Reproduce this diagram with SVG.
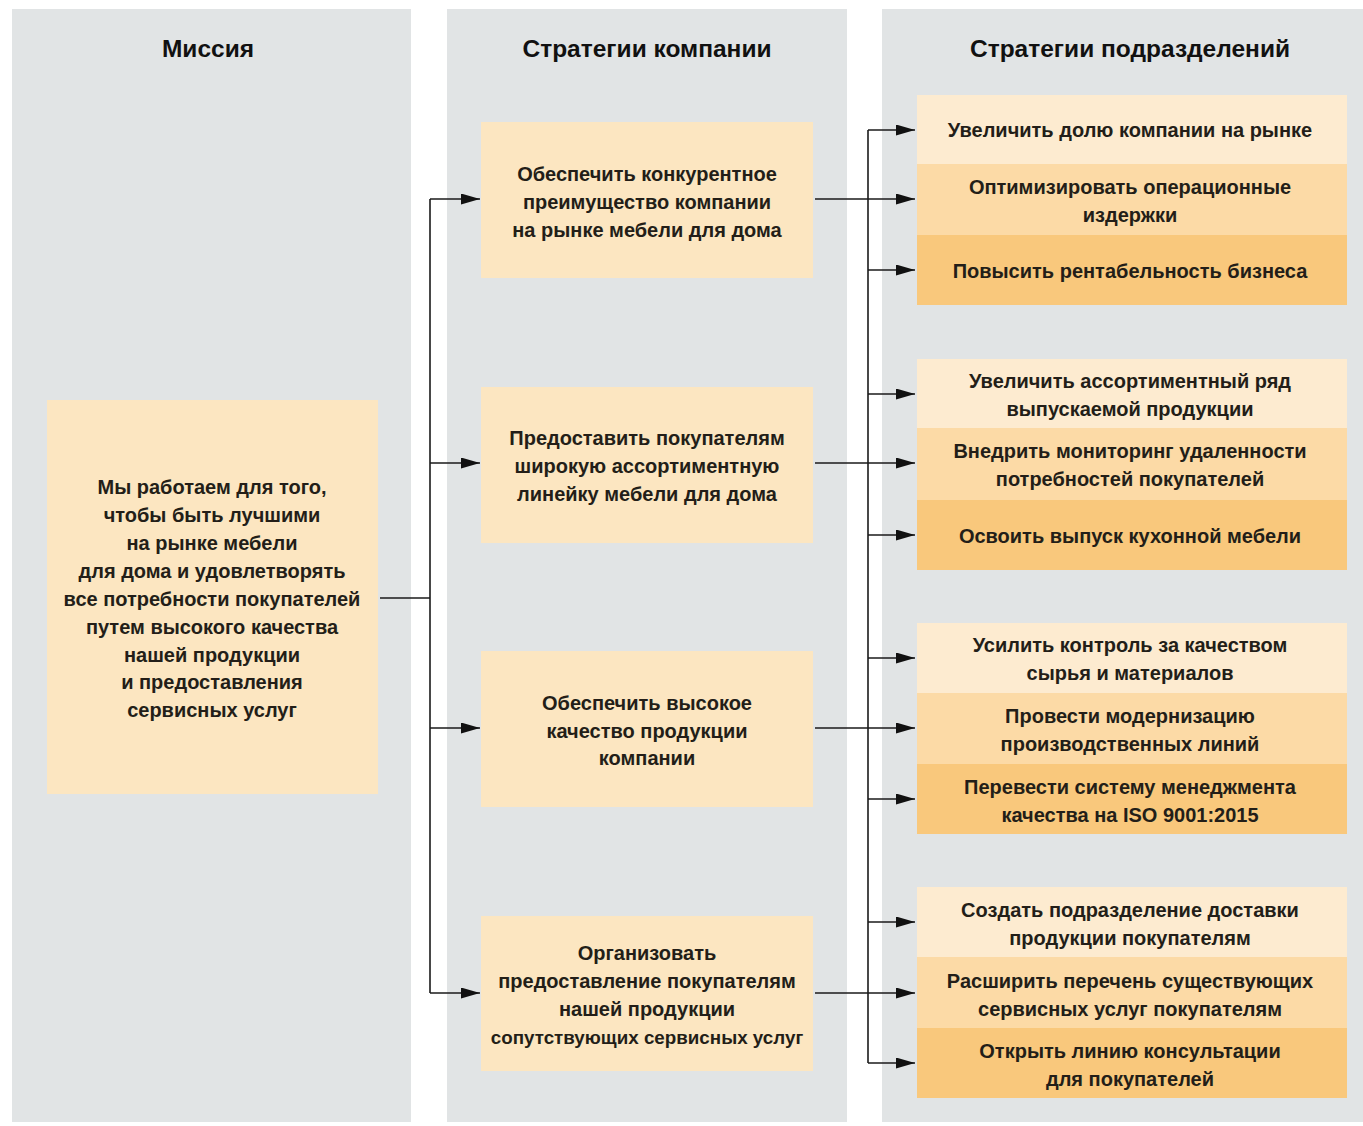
<svg xmlns="http://www.w3.org/2000/svg" width="1363" height="1126" viewBox="0 0 1363 1126">
<style>
.panel{fill:#e1e4e5}
.box{fill:#fce6c1}
.r1{fill:#fdebd0}
.r2{fill:#fcdaa6}
.r3{fill:#f9c87c}
text{font-family:"Liberation Sans",Arial,sans-serif;fill:#231e18;text-anchor:middle}
.h{font-size:24.5px;font-weight:bold;fill:#111}
.t{font-size:20px;font-weight:bold}
.s{font-size:18.8px}
.c{fill:none;stroke:#1a1a1a;stroke-width:1.6}
</style>
<defs>
<marker id="ah" viewBox="0 0 19 11" refX="19" refY="5.5" markerWidth="19" markerHeight="11" markerUnits="userSpaceOnUse" orient="auto">
<path d="M0,0 L19,5.5 L0,11 Z" fill="#111"/>
</marker>
</defs>
<rect width="1363" height="1126" fill="#fff"/>
<g id="panels">
<rect class="panel" x="12" y="9" width="399" height="1113"/>
<rect class="panel" x="447" y="9" width="400" height="1113"/>
<rect class="panel" x="882" y="9" width="481" height="1113"/>
<text class="h" x="208" y="57">Миссия</text>
<text class="h" x="647" y="57">Стратегии компании</text>
<text class="h" x="1130" y="57">Стратегии подразделений</text>
</g>
<g id="mission">
<rect class="box" x="47" y="400" width="331" height="394"/>
<text class="t" x="212" y="494">Мы работаем для того,</text>
<text class="t" x="212" y="522">чтобы быть лучшими</text>
<text class="t" x="212" y="550">на рынке мебели</text>
<text class="t" x="212" y="578">для дома и удовлетворять</text>
<text class="t" x="212" y="606">все потребности покупателей</text>
<text class="t" x="212" y="634">путем высокого качества</text>
<text class="t" x="212" y="662">нашей продукции</text>
<text class="t" x="212" y="689">и предоставления</text>
<text class="t" x="212" y="717">сервисных услуг</text>
</g>
<g id="s1">
<rect class="box" x="481" y="122" width="332" height="156"/>
<text class="t" x="647" y="181">Обеспечить конкурентное</text>
<text class="t" x="647" y="209">преимущество компании</text>
<text class="t" x="647" y="237">на рынке мебели для дома</text>
</g>
<g id="s2">
<rect class="box" x="481" y="387" width="332" height="156"/>
<text class="t" x="647" y="445">Предоставить покупателям</text>
<text class="t" x="647" y="473">широкую ассортиментную</text>
<text class="t" x="647" y="501">линейку мебели для дома</text>
</g>
<g id="s3">
<rect class="box" x="481" y="651" width="332" height="156"/>
<text class="t" x="647" y="710">Обеспечить высокое</text>
<text class="t" x="647" y="738">качество продукции</text>
<text class="t" x="647" y="765">компании</text>
</g>
<g id="s4">
<rect class="box" x="481" y="916" width="332" height="155"/>
<text class="t" x="647" y="960">Организовать</text>
<text class="t" x="647" y="988">предоставление покупателям</text>
<text class="t" x="647" y="1016">нашей продукции</text>
<text class="t s" x="647" y="1044">сопутствующих сервисных услуг</text>
</g>
<g id="d1">
<rect class="r1" x="917" y="95" width="430" height="69"/>
<rect class="r2" x="917" y="164" width="430" height="71"/>
<rect class="r3" x="917" y="235" width="430" height="70"/>
<text class="t" x="1130" y="137">Увеличить долю компании на рынке</text>
<text class="t" x="1130" y="194">Оптимизировать операционные</text>
<text class="t" x="1130" y="222">издержки</text>
<text class="t" x="1130" y="278">Повысить рентабельность бизнеса</text>
</g>
<g id="d2">
<rect class="r1" x="917" y="359" width="430" height="69"/>
<rect class="r2" x="917" y="428" width="430" height="72"/>
<rect class="r3" x="917" y="500" width="430" height="70"/>
<text class="t" x="1130" y="388">Увеличить ассортиментный ряд</text>
<text class="t" x="1130" y="416">выпускаемой продукции</text>
<text class="t" x="1130" y="458">Внедрить мониторинг удаленности</text>
<text class="t" x="1130" y="486">потребностей покупателей</text>
<text class="t" x="1130" y="543">Освоить выпуск кухонной мебели</text>
</g>
<g id="d3">
<rect class="r1" x="917" y="623" width="430" height="70"/>
<rect class="r2" x="917" y="693" width="430" height="71"/>
<rect class="r3" x="917" y="764" width="430" height="70"/>
<text class="t" x="1130" y="652">Усилить контроль за качеством</text>
<text class="t" x="1130" y="680">сырья и материалов</text>
<text class="t" x="1130" y="723">Провести модернизацию</text>
<text class="t" x="1130" y="751">производственных линий</text>
<text class="t" x="1130" y="794">Перевести систему менеджмента</text>
<text class="t" x="1130" y="822">качества на ISO 9001:2015</text>
</g>
<g id="d4">
<rect class="r1" x="917" y="887" width="430" height="70"/>
<rect class="r2" x="917" y="957" width="430" height="71"/>
<rect class="r3" x="917" y="1028" width="430" height="70"/>
<text class="t" x="1130" y="917">Создать подразделение доставки</text>
<text class="t" x="1130" y="945">продукции покупателям</text>
<text class="t" x="1130" y="988">Расширить перечень существующих</text>
<text class="t" x="1130" y="1016">сервисных услуг покупателям</text>
<text class="t" x="1130" y="1058">Открыть линию консультации</text>
<text class="t" x="1130" y="1086">для покупателей</text>
</g>
<g id="connectors">
<path class="c" d="M380,598 H430"/>
<path class="c" d="M430,199 V993"/>
<path class="c" d="M430,199 H480" marker-end="url(#ah)"/>
<path class="c" d="M430,463 H480" marker-end="url(#ah)"/>
<path class="c" d="M430,728 H480" marker-end="url(#ah)"/>
<path class="c" d="M430,993 H480" marker-end="url(#ah)"/>
<path class="c" d="M868,130 V1063"/>
<path class="c" d="M815,199 H868"/>
<path class="c" d="M815,463 H868"/>
<path class="c" d="M815,728 H868"/>
<path class="c" d="M815,993 H868"/>
<path class="c" d="M868,130 H915" marker-end="url(#ah)"/>
<path class="c" d="M868,199 H915" marker-end="url(#ah)"/>
<path class="c" d="M868,270 H915" marker-end="url(#ah)"/>
<path class="c" d="M868,394 H915" marker-end="url(#ah)"/>
<path class="c" d="M868,463 H915" marker-end="url(#ah)"/>
<path class="c" d="M868,535 H915" marker-end="url(#ah)"/>
<path class="c" d="M868,658 H915" marker-end="url(#ah)"/>
<path class="c" d="M868,728 H915" marker-end="url(#ah)"/>
<path class="c" d="M868,799 H915" marker-end="url(#ah)"/>
<path class="c" d="M868,922 H915" marker-end="url(#ah)"/>
<path class="c" d="M868,993 H915" marker-end="url(#ah)"/>
<path class="c" d="M868,1063 H915" marker-end="url(#ah)"/>
</g>
</svg>
